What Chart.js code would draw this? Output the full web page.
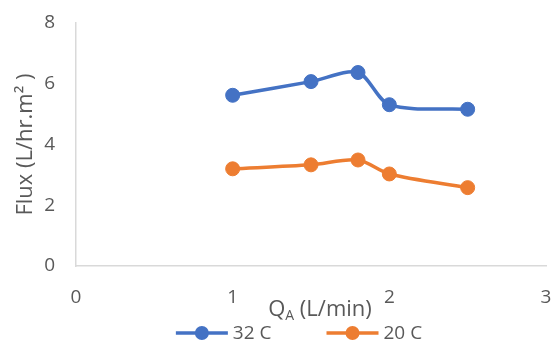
<!DOCTYPE html>
<html>
<head>
<meta charset="utf-8">
<script src="https://cdn.jsdelivr.net/npm/chart.js@4.4.1/dist/chart.umd.min.js"></script>
<style>
  html, body { margin: 0; padding: 0; background: #ffffff; }
  #wrap { width: 554px; height: 345px; position: relative; }
</style>
</head>
<body>
<div id="wrap"><canvas id="c" width="554" height="345"></canvas></div>
<script>
// Permeate flux versus feed flow rate at two temperatures
const flowRates = [1, 1.5, 1.8, 2, 2.5];
const flux32C = [5.62, 6.07, 6.37, 5.31, 5.16];
const flux20C = [3.2, 3.33, 3.49, 3.03, 2.58];
const seriesNames = ['32 C', '20 C'];
const seriesColors = ['#4472C4', '#ED7D31'];
const xTicks = [0, 1, 2, 3];
const yTicks = [0, 2, 4, 6, 8];

const FONT = "'Open Sans', 'DejaVu Sans', sans-serif";
const TEXT = '#595959';

function toPoints(xs, ys) {
  return xs.map((x, i) => ({ x: x, y: ys[i] }));
}

function makeSet(label, data, color) {
  return {
    label: label,
    data: data,
    borderColor: color,
    backgroundColor: color,
    borderWidth: 3.5,
    pointRadius: 7,
    pointHoverRadius: 7,
    pointBorderWidth: 1,
    pointBorderColor: color,
    pointBackgroundColor: color,
    tension: 0.3,
    showLine: true,
    fill: false
  };
}

// keep the plot area where the layout padding puts it
function noEdgePadding(axis) {
  axis.paddingTop = 0;
  axis.paddingBottom = 0;
  axis.paddingLeft = 0;
  axis.paddingRight = 0;
}

// X-axis title with a subscript, and a line-and-marker legend below it
const extrasPlugin = {
  id: 'extras',
  afterDraw(chart) {
    const ctx = chart.ctx;
    const area = chart.chartArea;
    ctx.save();
    ctx.fillStyle = TEXT;
    ctx.textBaseline = 'alphabetic';

    // "Q_A (L/min)"
    const big = '22px ' + FONT, small = '14px ' + FONT;
    ctx.font = big; const wQ = ctx.measureText('Q').width;
    ctx.font = small; const wA = ctx.measureText('A').width;
    ctx.font = big; const wRest = ctx.measureText(' (L/min)').width;
    const total = wQ + wA + wRest;
    let x = (area.left + area.right) / 2 + 9 - total / 2;
    const base = area.bottom + 50;
    ctx.textAlign = 'left';
    ctx.font = big; ctx.fillText('Q', x, base); x += wQ;
    ctx.font = small; ctx.fillText('A', x, base + 4); x += wA;
    ctx.font = big; ctx.fillText(' (L/min)', x, base);

    // legend
    ctx.font = '19px ' + FONT;
    ctx.textBaseline = 'middle';
    const lineLen = 52, gapText = 5, gapItem = 55;
    const widths = seriesNames.map(n => lineLen + gapText + ctx.measureText(n).width);
    const legendWidth = widths.reduce((a, b) => a + b, 0) + gapItem * (seriesNames.length - 1);
    let lx = (area.left + area.right) / 2 - 12 - legendWidth / 2;
    const ly = chart.height - 12;
    seriesNames.forEach((name, i) => {
      ctx.strokeStyle = seriesColors[i];
      ctx.lineWidth = 3.5;
      ctx.beginPath();
      ctx.moveTo(lx, ly);
      ctx.lineTo(lx + lineLen, ly);
      ctx.stroke();
      ctx.fillStyle = seriesColors[i];
      ctx.beginPath();
      ctx.arc(lx + lineLen / 2, ly, 7, 0, Math.PI * 2);
      ctx.fill();
      ctx.fillStyle = TEXT;
      ctx.fillText(name, lx + lineLen + gapText, ly + 1);
      lx += widths[i] + gapItem;
    });
    ctx.restore();
  }
};

new Chart(document.getElementById('c'), {
  type: 'scatter',
  data: {
    datasets: [
      makeSet(seriesNames[0], toPoints(flowRates, flux32C), seriesColors[0]),
      makeSet(seriesNames[1], toPoints(flowRates, flux20C), seriesColors[1])
    ]
  },
  options: {
    responsive: false,
    animation: false,
    devicePixelRatio: 1,
    layout: { padding: { left: 11, right: 8, top: 23, bottom: 29 } },
    plugins: {
      legend: { display: false },
      tooltip: { enabled: false }
    },
    scales: {
      x: {
        type: 'linear',
        min: xTicks[0],
        max: xTicks[xTicks.length - 1],
        afterBuildTicks(axis) { axis.ticks = xTicks.map(v => ({ value: v })); },
        grid: { display: false, drawTicks: false },
        border: { display: true, color: '#D9D9D9', width: 1.5 },
        ticks: { color: TEXT, font: { family: FONT, size: 19 }, padding: 20, maxRotation: 0 },
        afterFit(axis) { axis.height = 50; noEdgePadding(axis); }
      },
      y: {
        type: 'linear',
        min: yTicks[0],
        max: yTicks[yTicks.length - 1],
        afterBuildTicks(axis) { axis.ticks = yTicks.map(v => ({ value: v })); },
        grid: { display: false, drawTicks: false },
        border: { display: true, color: '#D9D9D9', width: 1.5 },
        ticks: { color: TEXT, font: { family: FONT, size: 19 }, padding: 21 },
        title: {
          display: true,
          text: 'Flux (L/hr.m² )',
          color: TEXT,
          font: { family: FONT, size: 22 },
          padding: { top: 2, bottom: 0 }
        },
        afterFit(axis) { axis.width = 65; noEdgePadding(axis); }
      }
    }
  },
  plugins: [extrasPlugin]
});
</script>
</body>
</html>
